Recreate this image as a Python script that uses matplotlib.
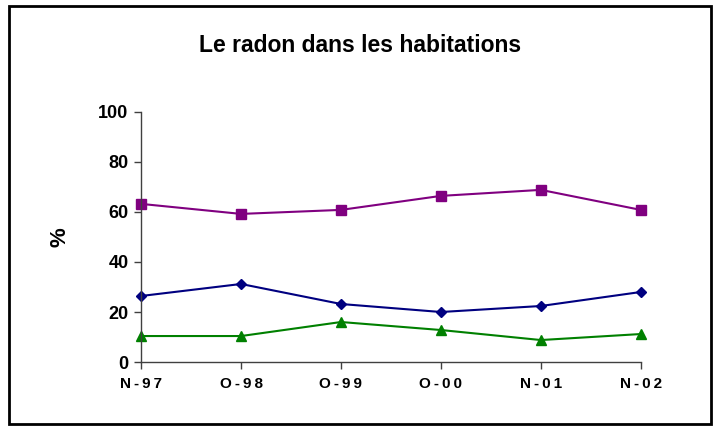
import matplotlib.pyplot as plt
from matplotlib.patches import Rectangle

# ===== data =====
categories = ["N-97", "O-98", "O-99", "O-00", "N-01", "N-02"]
serie_violet = [63.2, 59.2, 60.8, 66.4, 68.8, 60.8]
serie_bleu = [26.4, 31.2, 23.2, 20.0, 22.4, 28.0]
serie_vert = [10.4, 10.4, 16.0, 12.8, 8.8, 11.2]
y_ticks = [0, 20, 40, 60, 80, 100]

plt.rcParams['font.family'] = ['Liberation Sans', 'DejaVu Sans']

fig = plt.figure(figsize=(7.2, 4.3), dpi=100)
ax = fig.add_axes([0.196, 0.158, 0.694, 0.582])

x = list(range(len(categories)))
ax.plot(x, serie_violet, color='#800080', marker='s', markersize=7, linewidth=1.5, clip_on=False)
ax.plot(x, serie_bleu, color='#000080', marker='D', markersize=5.5, linewidth=1.5, clip_on=False)
ax.plot(x, serie_vert, color='#008000', marker='^', markersize=7, linewidth=1.5, clip_on=False)

ax.set_xlim(0, len(categories) - 1)
ax.set_ylim(0, 100)
ax.set_yticks(y_ticks)
ax.set_yticklabels([str(v) for v in y_ticks], fontsize=13, fontweight='bold')
ax.set_xticks(x)
# lettres légèrement espacées comme dans l'original
ax.set_xticklabels(["\u2009".join(c) for c in categories], fontsize=11, fontweight='bold')
ax.tick_params(axis='both', direction='out', length=5, width=1, color='#404040')
ax.tick_params(axis='x', pad=6)
ax.tick_params(axis='y', pad=4)

for s in ['top', 'right']:
    ax.spines[s].set_visible(False)
for s in ['left', 'bottom']:
    ax.spines[s].set_color('#404040')
    ax.spines[s].set_linewidth(1)

ax.set_ylabel("%", fontsize=16, fontweight='bold', labelpad=20)
fig.text(0.5, 0.895, "Le radon dans les habitations", ha='center', va='center',
         fontsize=16.5, fontweight='bold')

# cadre autour du graphique
fig.patches.append(Rectangle((0.012, 0.014), 0.976, 0.972, transform=fig.transFigure,
                             fill=False, edgecolor='black', linewidth=2))

fig.savefig("out.png", dpi=100)
